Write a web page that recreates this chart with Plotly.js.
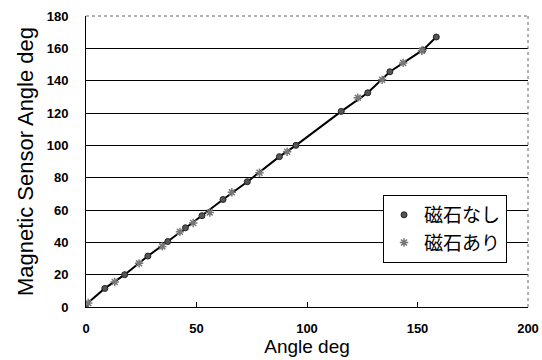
<!DOCTYPE html>
<html>
<head>
<meta charset="utf-8">
<script src="https://cdn.plot.ly/plotly-3.0.1.min.js"></script>
<style>html,body{margin:0;padding:0;background:#fff;}#chart{width:542px;height:360px;}</style>
</head>
<body>
<div id="chart"></div>
<script>
// 磁石なし (without magnet)
var angleNoMagnet = [0, 8.5, 17.5, 28, 37, 45, 52.5, 62, 73, 87.5, 95, 115.5, 127.5, 137.5, 152.5, 158.5];
var sensorNoMagnet = [1.5, 11.5, 20, 31.5, 40.5, 49, 56.5, 66.5, 77.5, 93, 100, 121, 132.5, 145.5, 159, 167];
// 磁石あり (with magnet)
var angleMagnet = [1, 13, 24, 34.5, 42.5, 48.5, 56, 66, 78.5, 91, 123, 134, 143.5, 152];
var sensorMagnet = [2.5, 15.5, 27, 37.5, 46.5, 52, 58.5, 71, 83, 96, 129.5, 140.5, 151, 158.5];
var xTicks = [0, 50, 100, 150, 200];
var yTicks = [0, 20, 40, 60, 80, 100, 120, 140, 160, 180];
var legendNames = ['磁石なし', '磁石あり'];

var tickFont = {family: 'Liberation Sans, Arial, sans-serif', size: 13, color: '#000', weight: 'bold'};

var traces = [
  {x: angleNoMagnet, y: sensorNoMagnet, mode: 'lines', type: 'scatter', showlegend: false,
   line: {color: '#000', width: 2}, hoverinfo: 'skip'},
  {x: angleNoMagnet, y: sensorNoMagnet, mode: 'markers', type: 'scatter', name: legendNames[0],
   marker: {symbol: 'circle', size: 6, color: '#555', line: {color: '#222', width: 1}}},
  {x: angleMagnet, y: sensorMagnet, mode: 'markers', type: 'scatter', name: legendNames[1],
   marker: {symbol: 'asterisk-open', size: 7, color: '#777', line: {color: '#777', width: 1.5}}}
];

var layout = {
  width: 542, height: 360,
  margin: {l: 86, r: 14, t: 16, b: 53},
  paper_bgcolor: '#fff', plot_bgcolor: '#fff',
  showlegend: true,
  legend: {
    x: 0.672, y: 0.385, xanchor: 'left', yanchor: 'top',
    bgcolor: '#fff', bordercolor: '#000', borderwidth: 1,
    font: {family: 'Noto Sans CJK JP, sans-serif', size: 19, color: '#000'},
    tracegroupgap: 0, itemwidth: 30
  },
  xaxis: {
    range: [0, 200], tickvals: xTicks, ticktext: xTicks.map(String),
    showgrid: false, zeroline: false,
    showline: true, linecolor: '#000', linewidth: 1,
    ticks: 'inside', ticklen: 5, tickcolor: '#000',
    ticklabelstandoff: 9,
    tickfont: tickFont,
    title: {text: 'Angle deg', font: {family: 'Liberation Sans, Arial, sans-serif', size: 19, color: '#000'}, standoff: 0}
  },
  yaxis: {
    range: [0, 180], tickvals: yTicks, ticktext: yTicks.map(String),
    showgrid: true, gridcolor: '#000', gridwidth: 1, zeroline: false,
    showline: true, linecolor: '#000', linewidth: 1,
    ticks: '', ticklabelstandoff: 14,
    tickfont: tickFont,
    title: {text: 'Magnetic Sensor Angle deg', font: {family: 'Liberation Sans, Arial, sans-serif', size: 22, color: '#000'}, standoff: 6}
  },
  shapes: [
    {type: 'line', xref: 'paper', yref: 'paper', x0: 0, x1: 1, y0: 1, y1: 1, line: {color: '#666', width: 1, dash: 'dot'}},
    {type: 'line', xref: 'paper', yref: 'paper', x0: 1, x1: 1, y0: 0, y1: 1, line: {color: '#666', width: 1, dash: 'dot'}}
  ]
};

Plotly.newPlot('chart', traces, layout, {displayModeBar: false, staticPlot: true});
</script>
</body>
</html>
